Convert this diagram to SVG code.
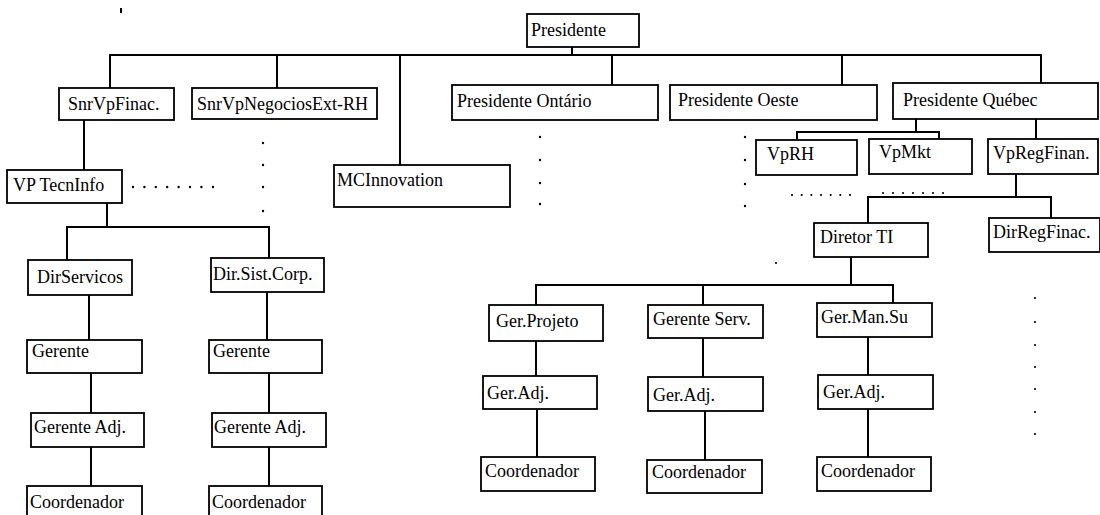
<svg xmlns="http://www.w3.org/2000/svg" width="1100" height="515" viewBox="0 0 1100 515">
<style>
.box{fill:#fff;stroke:#000;stroke-width:1.8}
.t{font-family:"Liberation Serif","Times New Roman",serif;font-size:18px;fill:#000}
.ln{stroke:#000;stroke-width:2;fill:none}
.dot{fill:#000}
</style>
<rect width="1100" height="515" fill="#fff"/>
<g id="connectors">
<path class="ln" d="M572,47V55 M110,88V55H1041V83 M277,55V88 M400,55V165 M612,55V85 M842,55V85"/>
<path class="ln" d="M84,120V170 M107,203V227 M67,260V227H269V258 M89,295V340 M267,292V340 M91,373V413 M91,447V486 M269,373V413 M269,447V486"/>
<path class="ln" d="M916,119V132 M797,139V132H939V139 M1036,119V139 M1016,173V197 M868,223V197H1051V218"/>
<path class="ln" d="M851,257V285 M536,305V285H893V303 M703,285V305 M536,341V376 M537,409V457 M703,338V377 M705,411V460 M868,337V375 M868,409V457"/>
<path class="ln" d="M121,8V13" stroke-width="1.5"/>
</g>
<g id="dots">
<circle class="dot" cx="263" cy="143" r="1.2"/><circle class="dot" cx="263" cy="165" r="1.2"/><circle class="dot" cx="263" cy="187" r="1.2"/><circle class="dot" cx="263" cy="211" r="1.2"/>
<circle class="dot" cx="540" cy="137" r="1.2"/><circle class="dot" cx="540" cy="160" r="1.2"/><circle class="dot" cx="540" cy="183" r="1.2"/><circle class="dot" cx="540" cy="204" r="1.2"/>
<circle class="dot" cx="745" cy="137" r="1.2"/><circle class="dot" cx="745" cy="160" r="1.2"/><circle class="dot" cx="745" cy="184" r="1.2"/><circle class="dot" cx="745" cy="206" r="1.2"/>
<circle class="dot" cx="1035" cy="298" r="1.1"/><circle class="dot" cx="1035" cy="322" r="1.1"/><circle class="dot" cx="1035" cy="345" r="1.1"/><circle class="dot" cx="1035" cy="367" r="1.1"/><circle class="dot" cx="1035" cy="389" r="1.1"/><circle class="dot" cx="1035" cy="412" r="1.1"/><circle class="dot" cx="1035" cy="434" r="1.1"/>
<circle class="dot" cx="133" cy="187" r="1.2"/><circle class="dot" cx="144.4" cy="187" r="1.2"/><circle class="dot" cx="155.8" cy="187" r="1.2"/><circle class="dot" cx="167.2" cy="187" r="1.2"/><circle class="dot" cx="178.6" cy="187" r="1.2"/><circle class="dot" cx="190" cy="187" r="1.2"/><circle class="dot" cx="201.4" cy="187" r="1.2"/><circle class="dot" cx="213" cy="187" r="1.2"/>
<circle class="dot" cx="792" cy="195" r="1.1"/><circle class="dot" cx="801.7" cy="195" r="1.1"/><circle class="dot" cx="811.3" cy="195" r="1.1"/><circle class="dot" cx="821" cy="195" r="1.1"/><circle class="dot" cx="830.7" cy="195" r="1.1"/><circle class="dot" cx="840.3" cy="195" r="1.1"/><circle class="dot" cx="850" cy="195" r="1.1"/>
<circle class="dot" cx="883" cy="193" r="1.1"/><circle class="dot" cx="893" cy="193" r="1.1"/><circle class="dot" cx="903" cy="193" r="1.1"/><circle class="dot" cx="913" cy="193" r="1.1"/><circle class="dot" cx="923" cy="193" r="1.1"/><circle class="dot" cx="933" cy="193" r="1.1"/><circle class="dot" cx="943" cy="193" r="1.1"/>
<circle class="dot" cx="776" cy="263" r="1.1"/>
</g>
<g id="n-presidente"><rect class="box" x="527" y="14" width="112" height="33"/><text class="t" x="531" y="36">Presidente</text></g>
<g id="n-snrvpfinac"><rect class="box" x="59" y="88" width="115" height="32"/><text class="t" x="68" y="110">SnrVpFinac.</text></g>
<g id="n-snrvpnegocios"><rect class="box" x="192" y="88" width="185" height="31"/><text class="t" x="197" y="110">SnrVpNegociosExt-RH</text></g>
<g id="n-mcinnovation"><rect class="box" x="334" y="165" width="176" height="42"/><text class="t" x="337" y="186">MCInnovation</text></g>
<g id="n-ontario"><rect class="box" x="452" y="85" width="206" height="35"/><text class="t" x="457" y="107">Presidente Ontário</text></g>
<g id="n-oeste"><rect class="box" x="670" y="85" width="207" height="35"/><text class="t" x="678" y="106">Presidente Oeste</text></g>
<g id="n-quebec"><rect class="box" x="893" y="83" width="205" height="36"/><text class="t" x="903" y="106">Presidente Québec</text></g>
<g id="n-vprh"><rect class="box" x="756" y="140" width="101" height="35"/><text class="t" x="767" y="160">VpRH</text></g>
<g id="n-vpmkt"><rect class="box" x="869" y="139" width="103" height="35"/><text class="t" x="879" y="158">VpMkt</text></g>
<g id="n-vpregfinan"><rect class="box" x="988" y="139" width="110" height="35"/><text class="t" x="993" y="159">VpRegFinan.</text></g>
<g id="n-vptecninfo"><rect class="box" x="7" y="170" width="115" height="33"/><text class="t" x="13" y="191">VP TecnInfo</text></g>
<g id="n-dirservicos"><rect class="box" x="28" y="260" width="104" height="35"/><text class="t" x="37" y="283">DirServicos</text></g>
<g id="n-dirsistcorp"><rect class="box" x="211" y="258" width="113" height="34"/><text class="t" x="213" y="280">Dir.Sist.Corp.</text></g>
<g id="n-gerente1"><rect class="box" x="27" y="340" width="115" height="33"/><text class="t" x="32" y="357">Gerente</text></g>
<g id="n-gerente2"><rect class="box" x="209" y="340" width="113" height="33"/><text class="t" x="213" y="357">Gerente</text></g>
<g id="n-geradj1"><rect class="box" x="31" y="413" width="113" height="34"/><text class="t" x="34" y="433">Gerente Adj.</text></g>
<g id="n-geradj2"><rect class="box" x="212" y="413" width="114" height="34"/><text class="t" x="214" y="433">Gerente Adj.</text></g>
<g id="n-coord1"><rect class="box" x="27" y="486" width="115" height="34"/><text class="t" x="30" y="508">Coordenador</text></g>
<g id="n-coord2"><rect class="box" x="209" y="486" width="113" height="34"/><text class="t" x="212" y="508">Coordenador</text></g>
<g id="n-diretorti"><rect class="box" x="814" y="223" width="114" height="34"/><text class="t" x="820" y="243">Diretor TI</text></g>
<g id="n-dirregfinac"><rect class="box" x="989" y="218" width="111" height="34"/><text class="t" x="993" y="238">DirRegFinac.</text></g>
<g id="n-gerprojeto"><rect class="box" x="489" y="305" width="114" height="36"/><text class="t" x="496" y="327">Ger.Projeto</text></g>
<g id="n-gerenteserv"><rect class="box" x="648" y="305" width="115" height="33"/><text class="t" x="653" y="325">Gerente Serv.</text></g>
<g id="n-germansu"><rect class="box" x="817" y="303" width="115" height="34"/><text class="t" x="821" y="323">Ger.Man.Su</text></g>
<g id="n-geradj3"><rect class="box" x="483" y="376" width="114" height="33"/><text class="t" x="487" y="399">Ger.Adj.</text></g>
<g id="n-geradj4"><rect class="box" x="648" y="377" width="115" height="34"/><text class="t" x="653" y="401">Ger.Adj.</text></g>
<g id="n-geradj5"><rect class="box" x="818" y="375" width="115" height="34"/><text class="t" x="823" y="398">Ger.Adj.</text></g>
<g id="n-coord3"><rect class="box" x="481" y="457" width="114" height="34"/><text class="t" x="485" y="477">Coordenador</text></g>
<g id="n-coord4"><rect class="box" x="647" y="460" width="115" height="33"/><text class="t" x="652" y="478">Coordenador</text></g>
<g id="n-coord5"><rect class="box" x="817" y="457" width="114" height="34"/><text class="t" x="821" y="477">Coordenador</text></g>
</svg>
